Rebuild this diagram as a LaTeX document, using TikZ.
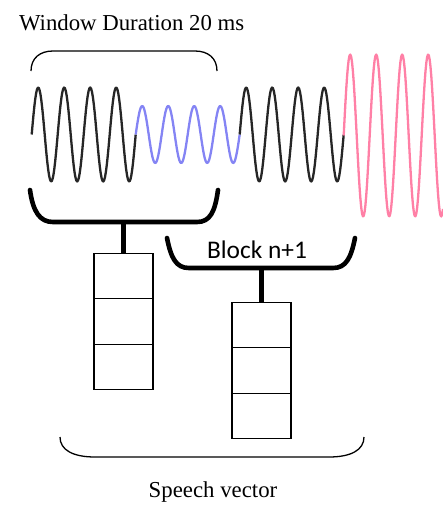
\documentclass[tikz,border=0pt]{standalone}
\usepackage{fontspec}
\setmainfont{Liberation Serif}
\newfontfamily\blockfont{Carlito}
\usetikzlibrary{positioning}
\definecolor{wavegray}{HTML}{262626}
\definecolor{waveblue}{HTML}{8484F4}
\definecolor{wavepink}{HTML}{FF80A6}
\begin{document}
\begin{tikzpicture}[x=0.5pt,y=-0.5pt]
		\tikzstyle{wave} =[line width=1.15pt, line join=round];
		\tikzstyle{brace} =[line width=0.65pt];
		\tikzstyle{thickbrace} =[line width=2.3pt, line cap=round];
		\tikzstyle{cell} =[draw, line width=0.7pt, minimum width=29.5pt, minimum height=22.75pt, outer sep=0pt, inner sep=0pt];
		\useasboundingbox (0,0) rectangle (443,505);

		\node[anchor=base west, font=\fontsize{11.4}{13}\selectfont] (window) at (12,30) {Window Duration 20 ms};

		% speech signal, period 26 (13.846 deg per unit)
		\draw[wave, wavegray] plot[domain=31.7:135.7, samples=120] (\x, {134.5-47*sin(13.846*(\x-31.7))});
		\draw[wave, waveblue] plot[domain=135.7:239.7, samples=120] (\x, {134.5-28.5*sin(13.846*(\x-135.7))});
		\draw[wave, wavegray] plot[domain=239.7:343.7, samples=120] (\x, {134.5-47*sin(13.846*(\x-239.7))});
		\draw[wave, wavepink] plot[domain=343.7:443, samples=120] (\x, {135.5-81*sin(13.846*(\x-343.7))});

		% window bracket
		\draw[brace] (31,71) .. controls (31,58) and (40,51) .. (53,51) -- (195,51) .. controls (208,51) and (217,58) .. (217,71);

		% blocks
		\draw[thickbrace] (30,190) .. controls (33,212) and (40,222) .. (53,222) -- (197,222) .. controls (210,222) and (215,212) .. (218,190);
		\coordinate (blockA) at (123.5,222);
		\draw[thickbrace] (167,238) .. controls (171,258) and (176,268) .. (189,268) -- (333,268) .. controls (346,268) and (351,258) .. (355,238);
		\coordinate (blockB) at (261.5,268);
		\node[anchor=base, font=\blockfont\fontsize{12.7}{14}\selectfont] (blocklabel) at (257,258) {Block n+1};

		% feature vectors
		\node[cell] (a1) at (123.5,276) {};
		\node[cell, below of=a1, node distance=22.75pt] (a2) {};
		\node[cell, below of=a2, node distance=22.75pt] (a3) {};
		\node[cell] (b1) at (261.5,325) {};
		\node[cell, below of=b1, node distance=22.75pt] (b2) {};
		\node[cell, below of=b2, node distance=22.75pt] (b3) {};

		\draw[line width=2.3pt] (blockA) -- (a1.north);
		\draw[line width=2.3pt] (blockB) -- (b1.north);

		% speech vector bracket
		\draw[brace] (60,437) .. controls (60,450) and (73,457) .. (95,457) -- (329,457) .. controls (351,457) and (364,450) .. (364,437);
		\node[anchor=base, font=\fontsize{11.4}{13}\selectfont] (speech) at (213,497) {Speech vector};
	\end{tikzpicture}
\end{document}
